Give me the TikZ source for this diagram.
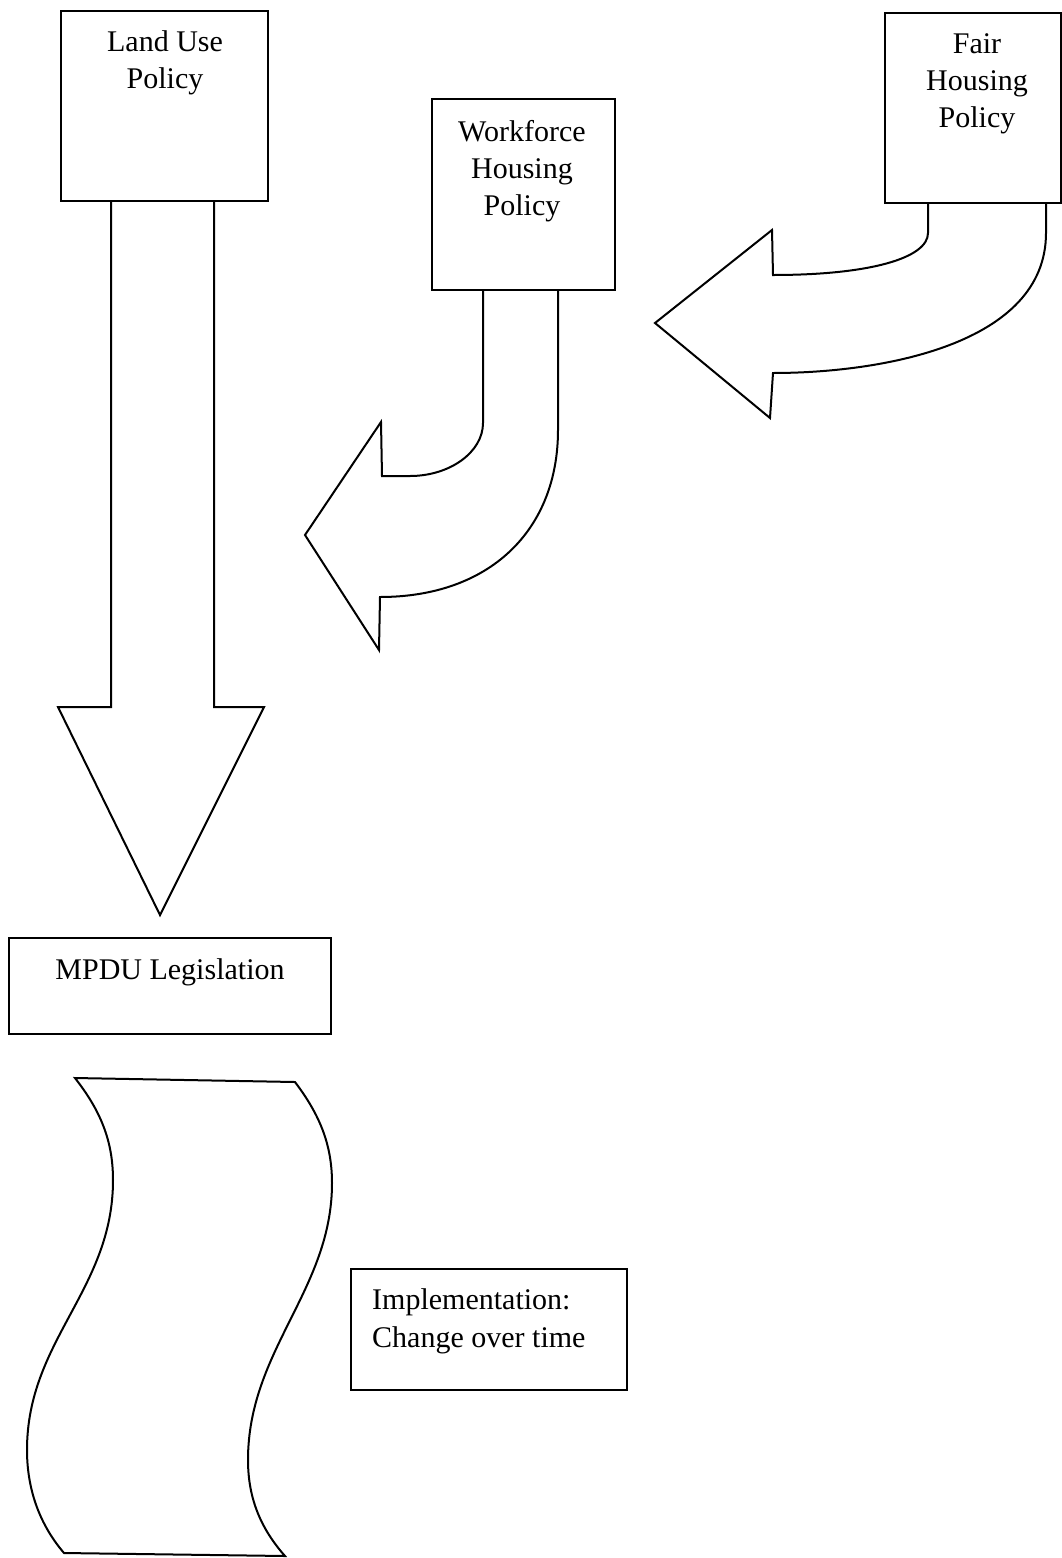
\documentclass[tikz,border=0pt]{standalone}
\usepackage{fontspec}
\setmainfont{Liberation Serif}
\begin{document}
\begin{tikzpicture}[x=1pt,y=-1pt,
  box/.style={draw, line width=2pt, inner sep=0pt},
  lbl/.style={font=\fontsize{30}{37}\selectfont, inner sep=0pt, align=center, anchor=base},
  lbll/.style={font=\fontsize{30}{38}\selectfont, inner sep=0pt, align=left, anchor=base west},
  blk/.style={draw, line width=2pt, line join=miter}]
\useasboundingbox (0,0) rectangle (1061,1558);
% boxes
\node[box, minimum width=207pt, minimum height=190pt] (landuse) at (164.5,106) {};
\node[lbl] (landuse-t) at (165,88) {Land Use\\Policy};
\node[box, minimum width=183pt, minimum height=191pt] (workforce) at (523.5,194.5) {};
\node[lbl] (workforce-t) at (522,215) {Workforce\\Housing\\Policy};
\node[box, minimum width=176pt, minimum height=190pt] (fair) at (973,108) {};
\node[lbl] (fair-t) at (977,127) {Fair\\Housing\\Policy};
\node[box, minimum width=322pt, minimum height=96pt] (mpdu) at (170,986) {};
\node[lbl] (mpdu-t) at (170,979) {MPDU Legislation};
\node[box, minimum width=276pt, minimum height=121pt] (impl) at (489,1329.5) {};
\node[lbll] (impl-t) at (372,1347) {Implementation:\\Change over time};
% down block arrow from Land Use
\draw[blk] (111,201) -- (111,707) -- (58,707) -- (160,915) -- (264,707) -- (214,707) -- (214,201);
% curved block arrow from Workforce Housing
\draw[blk] (483,290) -- (483,423) .. controls (483,452) and (450,476) .. (410,476)
  -- (382,476) -- (381,422) -- (305,535) -- (379,650) -- (380,597)
  .. controls (490,597) and (558,530) .. (558,430) -- (558,290);
% curved block arrow from Fair Housing
\draw[blk] (928,203) -- (928,233) .. controls (928,258) and (870,275) .. (773,275)
  -- (772,230) -- (655,323) -- (770,418) -- (773,373)
  .. controls (880,373) and (1046,345) .. (1046,233) -- (1046,203);
% wave (implementation over time)
\draw[blk] (75,1078) -- (295,1082)
  .. controls (320,1115) and (332,1145) .. (332,1183)
  .. controls (332,1290) and (248,1350) .. (248,1460)
  .. controls (248,1500) and (262,1530) .. (285,1556)
  -- (64,1553)
  .. controls (40,1525) and (27,1490) .. (27,1450)
  .. controls (27,1340) and (113,1290) .. (113,1180)
  .. controls (113,1140) and (100,1110) .. cycle;
\end{tikzpicture}
\end{document}
